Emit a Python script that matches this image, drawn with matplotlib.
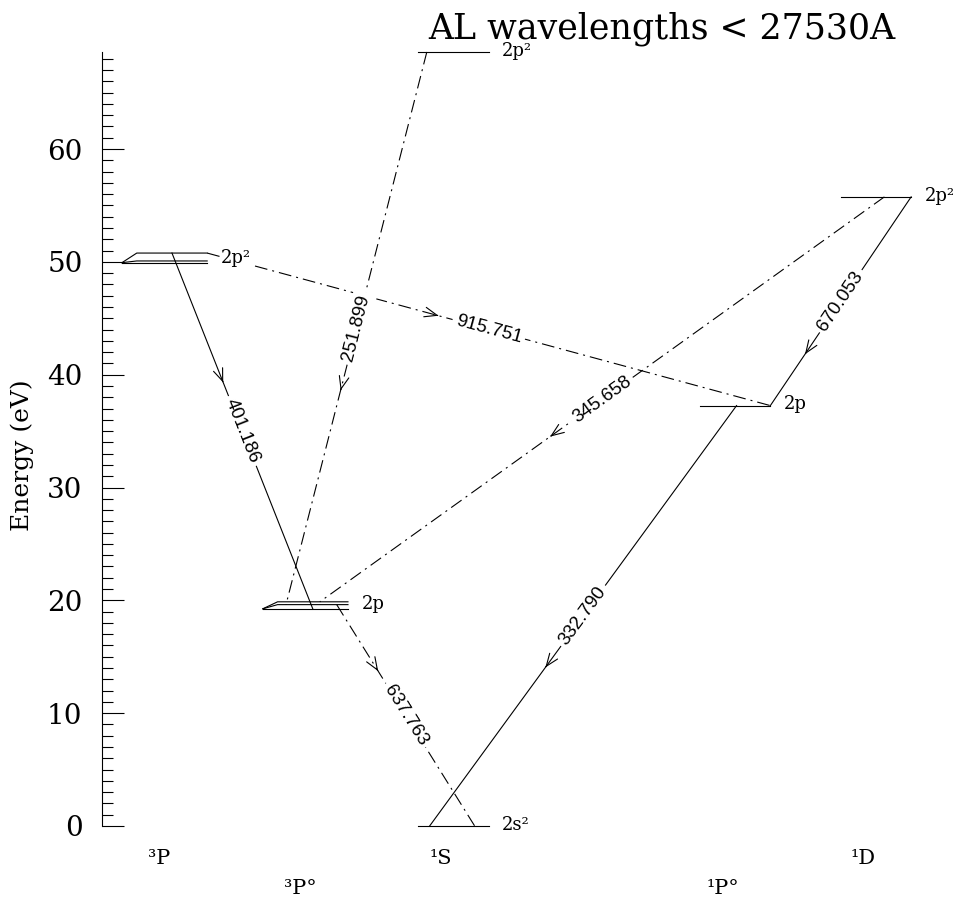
import numpy as np
import matplotlib
matplotlib.use("Agg")
import matplotlib.pyplot as plt
from matplotlib.ticker import MultipleLocator

plt.rcParams['font.family'] = ['DejaVu Serif']

# terms: label, column, label row (even parity upper row, odd lower)
terms = ["³P", "³P°", "¹S", "¹P°", "¹D"]
term_col = [0, 1, 2, 4, 5]
term_row = [0, 1, 0, 1, 0]

# levels: term index, configuration, energies of J components (eV)
level_term = [2, 1, 0, 3, 4, 2]
level_conf = ["2s²", "2p", "2p²", "2p", "2p²", "2p²"]
level_energy = [[0.0], [19.25, 19.62, 19.87], [49.93, 50.08, 50.78],
                [37.26], [55.76], [68.60]]

# transitions (wavelength in A), end points in column units / eV
wavelengths = ["401.186", "251.899", "915.751", "345.658", "670.053", "332.790", "637.763"]
x_upper = [0.00, 1.81, 0.25, 5.06, 5.25, 4.01, 1.17]
e_upper = [50.78, 68.60, 50.78, 55.76, 55.76, 37.26, 19.62]
x_lower = [1.00, 0.81, 4.25, 1.05, 4.25, 1.83, 2.15]
e_lower = [19.25, 19.62, 37.26, 19.87, 37.26, 0.0, 0.0]
allowed = [True, False, False, False, True, True, False]

fig = plt.figure(figsize=(9.6, 9.07), dpi=100)
ax = fig.add_axes([102 / 960, 81 / 907, 858 / 960, 774 / 907])
ax.set_xlim(-0.497, 5.597)
ax.set_ylim(0, 68.6)

for s in ['top', 'right', 'bottom']:
    ax.spines[s].set_visible(False)
ax.spines['left'].set_linewidth(0.8)
ax.set_xticks([])
ax.set_yticks(range(0, 61, 10))
ax.yaxis.set_minor_locator(MultipleLocator(1))
ax.tick_params(axis='y', which='major', direction='in', length=16, width=0.8,
               pad=14, labelsize=20)
ax.tick_params(axis='y', which='minor', direction='in', length=8, width=0.8)

lw = 0.8
dashdot = (0, (11.5, 4.5, 1.8, 4.5))

# energy levels
for t, conf, es in zip(level_term, level_conf, level_energy):
    c = term_col[t]
    e0 = min(es)
    for e in es:
        if len(es) > 1:
            ax.plot([c - 0.355, c - 0.25, c + 0.25], [e0, e, e], color='k', lw=lw,
                    clip_on=False)
        else:
            ax.plot([c - 0.25, c + 0.25], [e, e], color='k', lw=lw, clip_on=False)
        ax.text(c + 0.345, np.mean(es) + 0.1, conf, fontsize=13, ha='left', va='center',
                clip_on=False, zorder=5,
                bbox=dict(facecolor='white', edgecolor='none', pad=0.5))

# term labels under the diagram
for lab, c, r in zip(terms, term_col, term_row):
    ax.text(c - 0.09, -2.85 - 2.65 * r, lab, fontsize=15, ha='center', va='center',
            clip_on=False)

# transitions
to_disp = ax.transData.transform
to_data = ax.transData.inverted().transform
for wl, xu, eu, xl, el, ok in zip(wavelengths, x_upper, e_upper, x_lower, e_lower, allowed):
    ax.plot([xu, xl], [eu, el], color='k', lw=lw, ls='-' if ok else dashdot, zorder=2,
            clip_on=False)
    pu = to_disp((xu, eu))
    pl = to_disp((xl, el))
    if pu[0] <= pl[0]:
        left, right = pu, pl
    else:
        left, right = pl, pu
    u = (right - left) / np.hypot(*(right - left))
    mid = (left + right) / 2
    ang = np.degrees(np.arctan2(u[1], u[0]))
    m = to_data(mid)
    ax.text(m[0], m[1], wl, fontsize=13.5, family='Liberation Sans', rotation=ang,
            rotation_mode='anchor', ha='center', va='center', zorder=4,
            bbox=dict(facecolor='white', edgecolor='none', pad=2.5))
    d = (pl - pu) / np.hypot(*(pl - pu))
    a = mid - 58 * u
    tip = to_data(a + 6 * d)
    tail = to_data(a + 5 * d)
    ax.annotate('', xy=tip, xytext=tail,
                arrowprops=dict(arrowstyle='->,head_length=0.9,head_width=0.35',
                                mutation_scale=10, lw=lw, color='k',
                                shrinkA=0, shrinkB=0), zorder=3)

fig.text(22 / 960, 1 - 455 / 907, "Energy (eV)", rotation=90, fontsize=18,
         ha='center', va='center')
fig.text(428 / 960, 1 - 38 / 907, "AL wavelengths < 27530A", fontsize=25,
         ha='left', va='baseline')

fig.savefig("out.png", dpi=100)
